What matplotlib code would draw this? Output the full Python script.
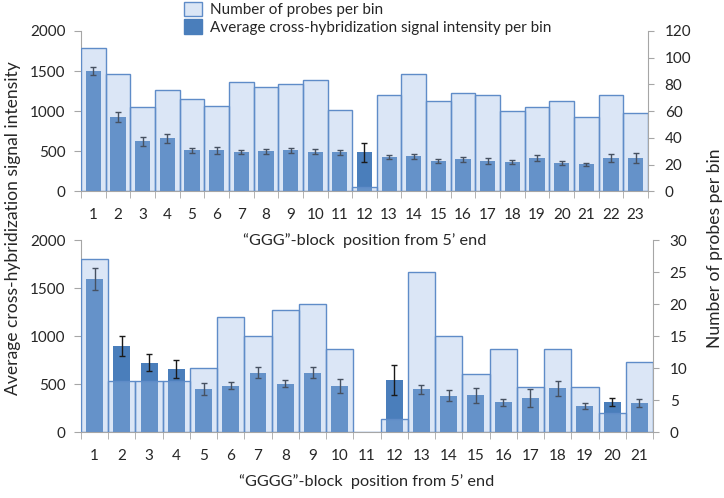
import numpy as np
import matplotlib
matplotlib.use('Agg')
import matplotlib.pyplot as plt
from matplotlib.patches import Patch

plt.rcParams['font.family'] = ['Lato', 'DejaVu Sans']

# "GGG"-block panel
ggg_pos = np.arange(1, 24)
ggg_signal = [1500, 930, 628, 661, 512, 512, 492, 504, 512, 496, 488, 490,
              428, 437, 378, 399, 378, 366, 416, 353, 337, 412, 412]
ggg_err = [50, 66, 56, 56, 31, 39, 29, 31, 29, 33, 35, 120,
           29, 29, 27, 31, 37, 27, 40, 21, 23, 50, 62]
ggg_count = [107, 88, 63, 76, 69, 64, 82, 78, 80, 83, 61, 3,
             72, 88, 68, 74, 72, 60, 63, 68, 56, 72, 59]

# "GGGG"-block panel (bin 11 has no probes)
gggg_pos = np.arange(1, 22)
gggg_signal = [1594, 897, 724, 655, 450, 482, 620, 502, 620, 482, np.nan,
               544, 443, 378, 381, 308, 353, 454, 270, 315, 305]
gggg_err = [114, 102, 90, 94, 62, 35, 55, 36, 61, 75, np.nan,
            158, 47, 55, 80, 38, 95, 80, 28, 42, 43]
gggg_count = [27, 8, 8, 8, 10, 18, 15, 19, 20, 13, 0,
              2, 25, 15, 9, 13, 7, 13, 7, 3, 11]

dark = '#4a7ebb'
light = (0.6, 0.72, 0.9, 0.35)
edge = '#5f8cc8'
spine_c = '#a6a6a6'
txt = '#262626'
fs = 11


def panel(rect, pos, signal, err, count, cmax, cstep, z):
    ax = fig.add_axes(rect, zorder=z)
    ax.patch.set_visible(False)
    ax.bar(pos, signal, width=0.62, color=dark, zorder=2)
    ax.errorbar(pos, signal, yerr=err, fmt='none', ecolor='#1a1a1a',
                elinewidth=1, capsize=2.2, capthick=1, zorder=3)
    ax.set_xlim(0.5, len(pos) + 0.5)
    ax.set_ylim(0, 2000)
    ax.set_yticks(range(0, 2001, 500))
    ax.set_xticks(pos)
    ax.set_xticks(np.arange(0.5, len(pos) + 1), minor=True)
    ax.tick_params(axis='x', which='major', length=0, pad=12,
                   labelsize=fs, labelcolor=txt)
    ax.tick_params(axis='x', which='minor', length=5, color=spine_c)
    ax.tick_params(axis='y', length=5, color=spine_c, pad=6,
                   labelsize=fs, labelcolor=txt)
    for s in ['top', 'right']:
        ax.spines[s].set_visible(False)
    for s in ['left', 'bottom']:
        ax.spines[s].set_color(spine_c)

    ax2 = ax.twinx()
    ax2.patch.set_visible(False)
    ax2.bar(pos, count, width=1.0, facecolor=light, edgecolor=edge,
            linewidth=1.0, zorder=2)
    ax2.set_ylim(0, cmax)
    ax2.set_yticks(range(0, cmax + 1, cstep))
    ax2.tick_params(axis='y', length=4, color=spine_c, pad=8,
                    labelsize=fs, labelcolor=txt)
    for s in ['top', 'left', 'bottom']:
        ax2.spines[s].set_visible(False)
    ax2.spines['right'].set_color(spine_c)
    return ax, ax2


fig = plt.figure(figsize=(7.24, 4.98), dpi=100)

ax_top, _ = panel([0.1119, 0.6155, 0.7831, 0.3223], ggg_pos, ggg_signal,
                  ggg_err, ggg_count, 120, 20, 2)
ax_top.set_xlabel('\u201cGGG\u201d-block  position from 5\u2019 end',
                  fontsize=11.7, color=txt, labelpad=8)

ax_bot, _ = panel([0.1119, 0.1325, 0.790, 0.3855], gggg_pos, gggg_signal,
                  gggg_err, gggg_count, 30, 5, 1)
ax_bot.set_xlabel('\u201cGGGG\u201d-block  position from 5\u2019 end',
                  fontsize=11.7, color=txt, labelpad=8)

fig.text(0.018, 0.542, 'Average cross-hybridization signal intensity',
         rotation=90, ha='center', va='center', fontsize=12.6, color=txt)
fig.text(0.987, 0.502, 'Number of probes per bin',
         rotation=90, ha='center', va='center', fontsize=12.6, color=txt)

handles = [Patch(facecolor='#dbe6f5', edgecolor=edge, linewidth=1.0),
           Patch(facecolor=dark, edgecolor=dark)]
fig.legend(handles, ['Number of probes per bin',
                     'Average cross-hybridization signal intensity per bin'],
           loc='upper left', bbox_to_anchor=(0.252, 1.0), frameon=False,
           fontsize=fs, borderpad=0.1, borderaxespad=0, handlelength=1.2,
           handleheight=1.1, handletextpad=0.5, labelspacing=0.15,
           labelcolor=txt)

fig.savefig('out.png', dpi=100)
